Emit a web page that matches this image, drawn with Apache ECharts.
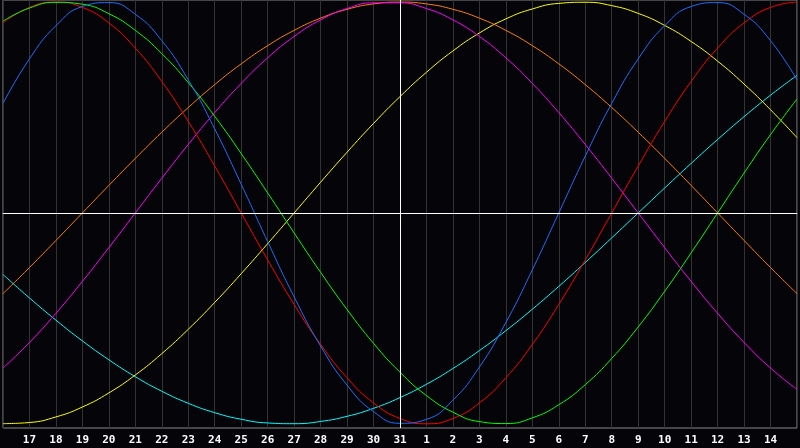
<!DOCTYPE html>
<html>
<head>
<meta charset="utf-8">
<script src="https://cdn.jsdelivr.net/npm/echarts@6/dist/echarts.min.js"></script>
<style>
html,body{margin:0;padding:0;background:#050409;}
#chart{width:800px;height:448px;}
</style>
</head>
<body>
<div id="chart"></div>
<script>
// Day labels (x axis categories): 16 .. 31, 1 .. 15
const days = ['16','17','18','19','20','21','22','23','24','25','26','27','28','29','30','31',
              '1','2','3','4','5','6','7','8','9','10','11','12','13','14','15'];

// Cycle values (range -1 .. 1), one per day
const blue = [0.5196,0.7308,0.8879,0.9791,0.9977,0.9423,0.8170,0.6311,0.3984,0.1362,
  -0.1362,-0.3984,-0.6311,-0.8170,-0.9423,-0.9977,-0.9791,-0.8879,-0.7308,-0.5196,
  -0.2698,0,0.2698,0.5196,0.7308,0.8879,0.9791,0.9977,0.9423,0.8170,0.6311];

const red = [0.9010,0.9749,1.0,0.9749,0.9010,0.7818,0.6235,0.4339,0.2225,0,
  -0.2225,-0.4339,-0.6235,-0.7818,-0.9010,-0.9749,-1.0,-0.9749,-0.9010,-0.7818,
  -0.6235,-0.4339,-0.2225,0,0.2225,0.4339,0.6235,0.7818,0.9010,0.9749,1.0];

const green = [0.9096,0.9718,0.9989,0.9898,0.9450,0.8660,0.7557,0.6182,0.4582,0.2817,
  0.0950,-0.0950,-0.2817,-0.4582,-0.6182,-0.7557,-0.8660,-0.9450,-0.9898,-0.9989,
  -0.9718,-0.9096,-0.8146,-0.6901,-0.5406,-0.3717,-0.1893,0,0.1893,0.3717,0.5406];

const yellow = [-0.9993,-0.9940,-0.9675,-0.9204,-0.8535,-0.7685,-0.6673,-0.5518,-0.4245,-0.2881,
  -0.1456,0,0.1456,0.2881,0.4245,0.5518,0.6673,0.7685,0.8535,0.9204,
  0.9675,0.9940,0.9993,0.9833,0.9465,0.8894,0.8133,0.7200,0.6112,0.4894,0.3572];

const magenta = [-0.7357,-0.6142,-0.4759,-0.3247,-0.1646,0,0.1646,0.3247,0.4759,0.6142,
  0.7357,0.8372,0.9158,0.9694,0.9966,0.9966,0.9694,0.9158,0.8372,0.7357,
  0.6142,0.4759,0.3247,0.1646,0,-0.1646,-0.3247,-0.4759,-0.6142,-0.7357,-0.8372];

const orange = [-0.3827,-0.2588,-0.1305,0,0.1305,0.2588,0.3827,0.5,0.6088,0.7071,
  0.7934,0.8660,0.9239,0.9659,0.9914,1.0,0.9914,0.9659,0.9239,0.8660,
  0.7934,0.7071,0.6088,0.5,0.3827,0.2588,0.1305,0,-0.1305,-0.2588,-0.3827];

const cyan = [-0.2920,-0.4031,-0.5085,-0.6069,-0.6965,-0.7767,-0.8457,-0.9028,-0.9473,-0.9785,
  -0.9961,-0.9996,-0.9890,-0.9647,-0.9267,-0.8757,-0.8125,-0.7378,-0.6528,-0.5585,
  -0.4566,-0.3482,-0.2349,-0.1183,0,0.1183,0.2349,0.3482,0.4566,0.5585,0.6528];

const seriesDefs = [
  {name:'cyan', data:cyan, color:'#00ffff'},
  {name:'yellow', data:yellow, color:'#ffff00'},
  {name:'orange', data:orange, color:'#ff8000'},
  {name:'magenta', data:magenta, color:'#ff00ff'},
  {name:'red', data:red, color:'#ff0000'},
  {name:'green', data:green, color:'#00ff00'},
  {name:'blue', data:blue, color:'#1e6eff'}
];

const chart = echarts.init(document.getElementById('chart'), null, {renderer:'canvas'});

const series = seriesDefs.map(s => ({
  name: s.name,
  type: 'line',
  data: s.data,
  smooth: true,
  showSymbol: false,
  silent: true,
  lineStyle: {color: s.color, width: 1},
  itemStyle: {color: s.color},
  z: 3
}));

// white reference lines (zero line and today)
series.unshift({
  type: 'line',
  data: [],
  silent: true,
  z: 2,
  markLine: {
    silent: true,
    symbol: 'none',
    label: {show: false},
    lineStyle: {color: '#ffffff', width: 1, type: 'solid'},
    data: [{xAxis: '31'}, {yAxis: 0}]
  }
});

chart.setOption({
  backgroundColor: '#050409',
  animation: false,
  grid: {
    left: 0, right: 0, top: 0, bottom: 20,
    show: true, borderColor: '#8a8a8a', borderWidth: 1, backgroundColor: 'transparent'
  },
  xAxis: {
    type: 'category',
    data: days,
    boundaryGap: false,
    axisLine: {show: true, lineStyle: {color: '#9a9a9a', width: 1}},
    axisTick: {show: false},
    axisLabel: {
      interval: 0,
      color: '#ffffff',
      fontFamily: 'DejaVu Sans Mono',
      fontWeight: 'bold',
      fontSize: 11,
      margin: 7,
      formatter: (v, i) => (i === 0 || i === days.length - 1) ? '' : v
    },
    splitLine: {show: true, lineStyle: {color: '#333333', width: 1}}
  },
  yAxis: {
    type: 'value',
    min: -1.02,
    max: 1.01,
    axisLine: {show: false},
    axisTick: {show: false},
    axisLabel: {show: false},
    splitLine: {show: false}
  },
  series: series
});
</script>
</body>
</html>
